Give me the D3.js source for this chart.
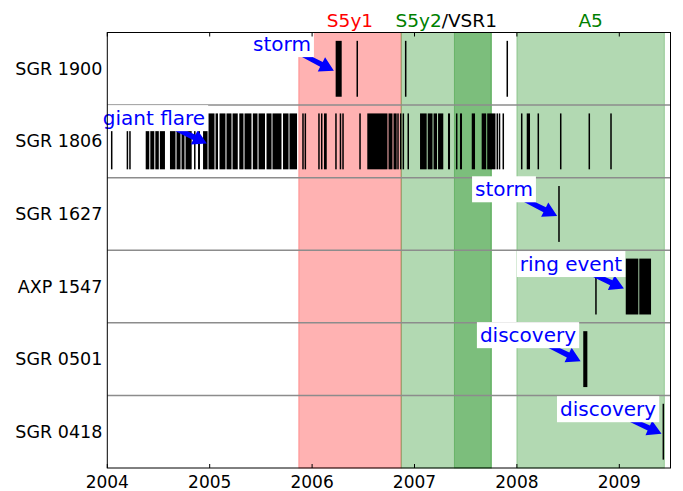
<!DOCTYPE html>
<html>
<head>
<meta charset="utf-8">
<script src="https://cdn.jsdelivr.net/npm/d3@7"></script>
<style>
  body { margin: 0; background: #fff; }
  text { font-family: "DejaVu Sans", sans-serif; }
</style>
</head>
<body>
<div id="chart"></div>
<script>
// sources, top to bottom
var sources = ["SGR 1900", "SGR 1806", "SGR 1627", "AXP 1547", "SGR 0501", "SGR 0418"];
var years = [2004, 2005, 2006, 2007, 2008, 2009];

// burst activity, [start, end] in decimal years (start == end for a single burst)
var sgr1900 = [[2006.230, 2006.289], [2006.441, 2006.441], [2006.914, 2006.914], [2007.906, 2007.906]];
var sgr1806 = [
  [2004.043, 2004.043], [2004.189, 2004.197], [2004.214, 2004.222],
  [2004.375, 2004.410], [2004.420, 2004.459], [2004.469, 2004.503], [2004.513, 2004.563],
  [2004.612, 2004.666], [2004.676, 2004.715], [2004.725, 2004.754], [2004.764, 2004.824],
  [2004.847, 2004.856], [2004.886, 2004.905], [2004.935, 2004.979], [2004.988, 2005.047],
  [2005.057, 2005.081], [2005.096, 2005.154], [2005.164, 2005.213], [2005.223, 2005.274],
  [2005.289, 2005.330], [2005.340, 2005.408], [2005.421, 2005.467], [2005.477, 2005.540],
  [2005.555, 2005.604], [2005.613, 2005.701], [2005.716, 2005.770], [2005.779, 2005.853],
  [2005.911, 2005.911], [2005.934, 2005.934], [2006.067, 2006.067], [2006.094, 2006.094],
  [2006.116, 2006.143], [2006.233, 2006.233], [2006.277, 2006.277], [2006.302, 2006.302],
  [2006.468, 2006.468], [2006.539, 2006.736], [2006.746, 2006.785], [2006.795, 2006.826],
  [2006.839, 2006.839], [2006.865, 2006.865], [2006.891, 2006.891], [2006.939, 2006.939],
  [2007.054, 2007.119], [2007.129, 2007.176], [2007.186, 2007.220], [2007.230, 2007.281],
  [2007.327, 2007.347], [2007.412, 2007.412], [2007.444, 2007.464], [2007.559, 2007.591],
  [2007.656, 2007.700], [2007.710, 2007.791], [2007.801, 2007.813], [2007.823, 2007.835],
  [2007.867, 2007.867], [2008.047, 2008.047], [2008.096, 2008.128], [2008.209, 2008.209],
  [2008.428, 2008.428], [2008.707, 2008.707], [2008.919, 2008.919]
];
var sgr1627 = [[2008.411, 2008.411]];
var axp1547 = [[2008.772, 2008.772], [2009.063, 2009.186], [2009.195, 2009.310]];
var sgr0501 = [[2008.648, 2008.688]];
var sgr0418 = [[2009.430, 2009.430]];
var events = [sgr1900, sgr1806, sgr1627, axp1547, sgr0501, sgr0418];

// science runs
var runNames = ["S5y1", "S5y2", "VSR1", "A5"];
var runStart = [2005.87, 2006.87, 2007.39, 2008.0];
var runEnd = [2006.87, 2007.75, 2007.75, 2009.44];
var runColor = ["#ff0000", "#008000", "#008000", "#008000"];

// annotations: label, source row, event time, text centre (time, row offset)
var notes = [
  {label: "storm", row: 0, t: 2006.23, tx: 2005.706, dy: -0.34},
  {label: "giant flare", row: 1, t: 2004.99, tx: 2004.456, dy: -0.32},
  {label: "storm", row: 2, t: 2008.411, tx: 2007.874, dy: -0.34},
  {label: "ring event", row: 3, t: 2009.063, tx: 2008.528, dy: -0.31},
  {label: "discovery", row: 4, t: 2008.64, tx: 2008.108, dy: -0.33},
  {label: "discovery", row: 5, t: 2009.43, tx: 2008.89, dy: -0.31}
];

var width = 683, height = 491;
var margin = {left: 107.3, right: 12.5, top: 32.5, bottom: 23};
var w = width - margin.left - margin.right;
var h = height - margin.top - margin.bottom;

var svg = d3.select("#chart").append("svg")
  .attr("width", width)
  .attr("height", height);

var g = svg.append("g")
  .attr("transform", translate(margin.left, margin.top));

var x = d3.scaleLinear().domain([2004, 2009.5]).range([0, w]);
var y = d3.scaleLinear().domain([-0.5, sources.length - 0.5]).range([0, h]);

// run shading
g.selectAll(".run")
  .data(runNames)
  .enter()
  .append("rect")
  .attr("class", "run")
  .attr("x", function(d, i) { return x(runStart[i]); })
  .attr("width", function(d, i) { return x(runEnd[i]) - x(runStart[i]); })
  .attr("y", 0)
  .attr("height", h)
  .attr("fill", function(d, i) { return runColor[i]; })
  .attr("fill-opacity", 0.3)
  .attr("stroke", function(d, i) { return runColor[i]; })
  .attr("stroke-opacity", 0.3)
  .attr("stroke-width", 1);

// row separators
g.selectAll(".sep")
  .data(d3.range(1, sources.length))
  .enter()
  .append("line")
  .attr("x1", 0).attr("x2", w)
  .attr("y1", function(d) { return y(d - 0.5); })
  .attr("y2", function(d) { return y(d - 0.5); })
  .attr("stroke", "#8c8c8c")
  .attr("stroke-width", 1.5);

// bursts
events.forEach(function(list, row) {
  g.selectAll(".ev" + row)
    .data(list)
    .enter()
    .append("rect")
    .attr("x", function(d) {
      return d[1] > d[0] ? x(d[0]) : x(d[0]) - 0.75;
    })
    .attr("width", function(d) {
      return d[1] > d[0] ? Math.max(x(d[1]) - x(d[0]), 1.5) : 1.5;
    })
    .attr("y", y(row - 0.385))
    .attr("height", y(row + 0.385) - y(row - 0.385))
    .attr("fill", "#000");
});

// annotations
notes.forEach(function(n) {
  var tx = x(n.tx), ty = y(n.row + n.dy);
  var px = x(n.t), py = y(n.row + 0.04);
  g.append("path")
    .attr("d", arrow(tx, ty, px, py))
    .attr("fill", "#0000ff");
  var box = g.append("rect").attr("fill", "#fff");
  var t = g.append("text")
    .attr("x", tx).attr("y", ty)
    .attr("text-anchor", "middle")
    .attr("dominant-baseline", "central")
    .attr("font-size", 20)
    .attr("fill", "#0000ff")
    .text(n.label);
  var b = t.node().getBBox();
  box.attr("x", b.x - 3).attr("y", b.y - 1)
    .attr("width", b.width + 6).attr("height", b.height + 2);
});

// frame
g.append("rect")
  .attr("width", w).attr("height", h)
  .attr("fill", "none")
  .attr("stroke", "#000")
  .attr("stroke-width", 1);

// x ticks, inside, top and bottom
g.selectAll(".tickb")
  .data(years)
  .enter()
  .append("line")
  .attr("x1", function(d) { return x(d); })
  .attr("x2", function(d) { return x(d); })
  .attr("y1", h).attr("y2", h - 4)
  .attr("stroke", "#000");
g.selectAll(".tickt")
  .data(years)
  .enter()
  .append("line")
  .attr("x1", function(d) { return x(d); })
  .attr("x2", function(d) { return x(d); })
  .attr("y1", 0).attr("y2", 4)
  .attr("stroke", "#000");
g.selectAll(".yl")
  .data(years)
  .enter()
  .append("text")
  .attr("x", function(d) { return x(d); })
  .attr("y", h + 20)
  .attr("text-anchor", "middle")
  .attr("font-size", 17)
  .text(function(d) { return d; });

// source labels
g.selectAll(".src")
  .data(sources)
  .enter()
  .append("text")
  .attr("x", -5)
  .attr("y", function(d, i) { return y(i); })
  .attr("text-anchor", "end")
  .attr("dominant-baseline", "central")
  .attr("font-size", 17.5)
  .text(function(d) { return d; });

// run labels above the plot
g.append("text")
  .attr("x", x((runStart[0] + runEnd[0]) / 2)).attr("y", -6)
  .attr("text-anchor", "middle").attr("font-size", 18.5)
  .attr("fill", runColor[0]).text(runNames[0]);
var lab2 = g.append("text")
  .attr("x", x((runStart[1] + runEnd[1]) / 2)).attr("y", -6)
  .attr("text-anchor", "middle").attr("font-size", 18.5);
lab2.append("tspan").attr("fill", runColor[1]).text(runNames[1]);
lab2.append("tspan").attr("fill", "#000").text("/" + runNames[2]);
g.append("text")
  .attr("x", x((runStart[3] + runEnd[3]) / 2)).attr("y", -6)
  .attr("text-anchor", "middle").attr("font-size", 18.5)
  .attr("fill", runColor[3]).text(runNames[3]);

function arrow(x0, y0, x1, y1) {
  var dx = x1 - x0, dy = y1 - y0;
  var len = Math.sqrt(dx * dx + dy * dy);
  var ux = dx / len, uy = dy / len;
  var nx = -uy, ny = ux;
  var ex = x1 - ux * 2, ey = y1 - uy * 2;
  var hx = ex - ux * 14, hy = ey - uy * 14;
  var sw = 2.8, hw = 8;
  var pts = [
    [x0 + nx * sw * 0.7, y0 + ny * sw * 0.7],
    [hx + nx * sw, hy + ny * sw],
    [hx + nx * hw, hy + ny * hw],
    [ex, ey],
    [hx - nx * hw, hy - ny * hw],
    [hx - nx * sw, hy - ny * sw],
    [x0 - nx * sw * 0.7, y0 - ny * sw * 0.7]
  ];
  return "M" + pts.map(function(p) { return p[0] + "," + p[1]; }).join("L") + "Z";
}

function translate(a, b) {
  return "translate(" + a + "," + b + ")";
}
</script>
</body>
</html>
